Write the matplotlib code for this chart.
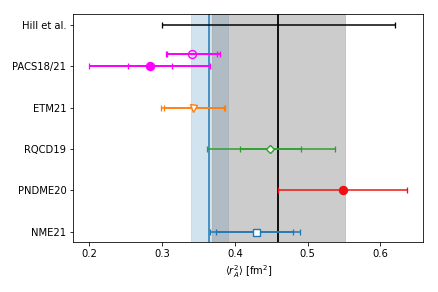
import matplotlib
matplotlib.use("Agg")
import matplotlib.pyplot as plt

labels = ['NME21', 'PNDME20', 'RQCD19', 'ETM21', 'PACS18/21', 'Hill et al.']
ypos = [0, 1, 2, 3, 4, 5]

pts_label = ['NME21', 'PNDME20', 'RQCD19', 'ETM21', 'PACS18/21', 'PACS18/21', 'Hill et al.']
pts_yoff = [0.0, 0.0, 0.0, 0.0, 0.0, 0.3, 0.0]
pts_val = [0.4286, 0.548, 0.449, 0.343, 0.283, 0.341, 0.46]
tot_lo = [0.0626, 0.089, 0.087, 0.044, 0.083, 0.036, 0.16]
tot_hi = [0.061, 0.089, 0.088, 0.044, 0.083, 0.038, 0.16]
stat_lo = [0.054, None, 0.042, 0.041, 0.030, 0.034, None]
stat_hi = [0.052, None, 0.042, 0.042, 0.030, 0.035, None]
colors = ['tab:blue', '#ee1111', 'tab:green', 'tab:orange', '#ff00ff', '#ff00ff', 'k']
markers = ['s', 'o', 'D', 'v', 'o', 'o', 'none']
filled = ['white', None, 'white', 'white', None, 'none', None]

band_blue = (0.34, 0.39)
line_blue = 0.365
band_grey = (0.368, 0.552)
line_black = 0.46

fig = plt.figure(figsize=(438 / 72, 292 / 72), dpi=72)
ax = fig.add_axes([0.1674, 0.170, 0.799, 0.781])

ax.axvspan(*band_blue, color='tab:blue', alpha=0.2, lw=0.8)
ax.axvspan(*band_grey, color='grey', alpha=0.4, lw=0.8)
ax.axvline(line_blue, color='tab:blue', lw=1.5)
ax.axvline(line_black, color='k', lw=1.8)

for i in range(len(pts_val)):
    y = ypos[labels.index(pts_label[i])] + pts_yoff[i]
    c = colors[i]
    lw = 2.0 if c == '#ff00ff' else 1.5
    ms = 8 if markers[i] == 'o' else 7
    if markers[i] == 'D':
        ms = 6
    mfc = c if filled[i] is None else filled[i]
    ax.errorbar(pts_val[i], y, xerr=[[tot_lo[i]], [tot_hi[i]]], fmt='none',
                ecolor=c, elinewidth=lw, capsize=3, capthick=1.3, zorder=3)
    if stat_lo[i] is not None:
        ax.errorbar(pts_val[i], y, xerr=[[stat_lo[i]], [stat_hi[i]]], fmt='none',
                    ecolor=c, elinewidth=lw, capsize=3, capthick=1.3, zorder=3)
    if markers[i] != 'none':
        ax.plot(pts_val[i], y, marker=markers[i], color=c, ms=ms, mfc=mfc,
                mec=c, mew=1.4, ls='none', zorder=4)

ax.set_yticks(ypos)
ax.set_yticklabels(labels, fontsize=10)
ax.set_xticks([0.2, 0.3, 0.4, 0.5, 0.6])
ax.set_xticklabels(['0.2', '0.3', '0.4', '0.5', '0.6'], fontsize=10)
ax.set_xlim(0.178, 0.659)
ax.set_ylim(-0.256, 5.25)
ax.set_xlabel(r'$\langle r_A^2\rangle$ [fm$^2$]', fontsize=10)

fig.savefig('out.png', dpi=72)
